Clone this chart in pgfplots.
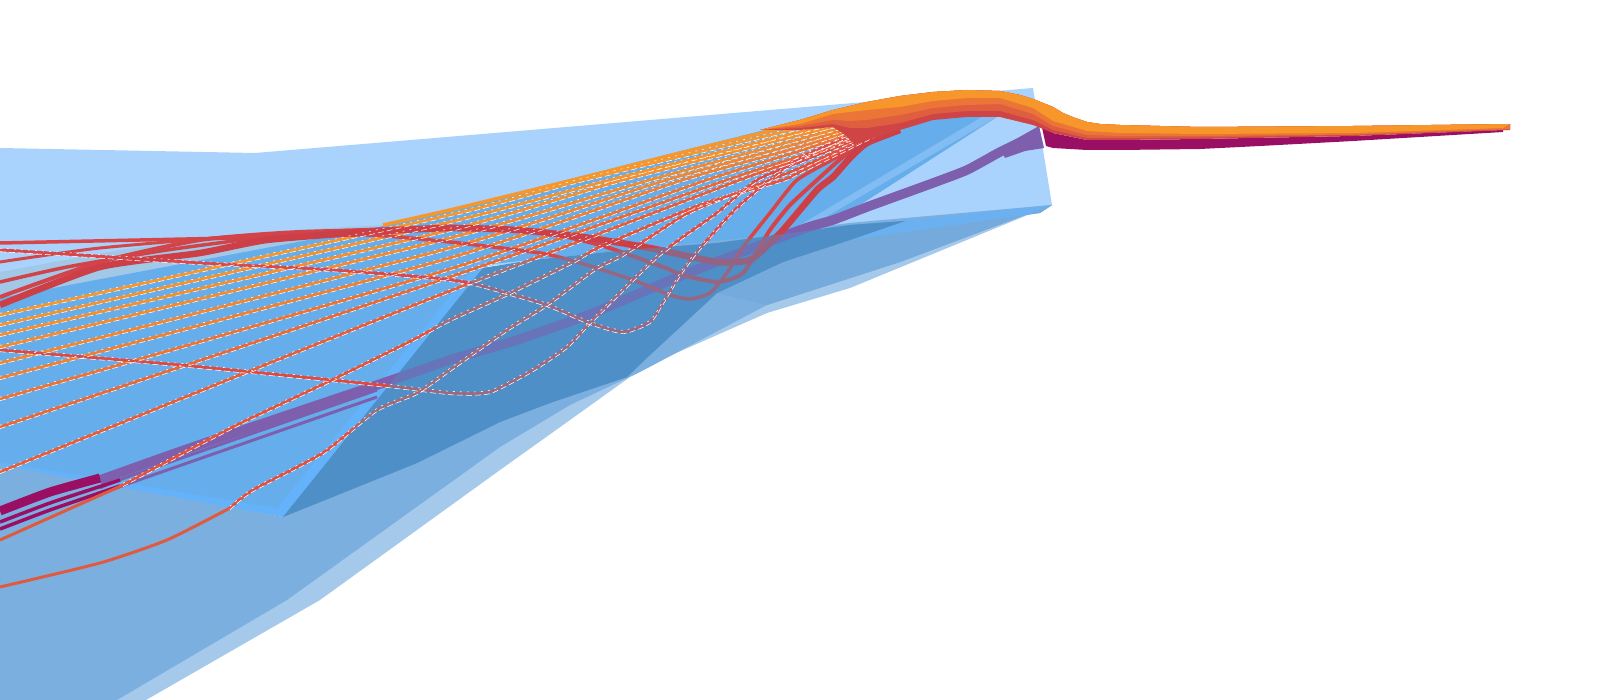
\documentclass[border=0pt]{standalone}
\usepackage{pgfplots}
\usepackage{pgfplotstable}
\pgfplotsset{compat=1.18}
\definecolor{lightp}{HTML}{A9D3FC}
\definecolor{medp}{HTML}{66ADEC}
\definecolor{brightp}{HTML}{64B2FA}
\definecolor{dark}{HTML}{4F8FC8}
\definecolor{midp}{HTML}{7BAFDF}
\definecolor{rimp}{HTML}{A5C9EB}
\definecolor{purp}{HTML}{7D5FAE}
\definecolor{mag}{HTML}{9A0E63}
\definecolor{layA}{HTML}{CF4546}
\definecolor{layB}{HTML}{DF5E40}
\definecolor{layC}{HTML}{EA7536}
\definecolor{layD}{HTML}{F7962B}
\definecolor{slab}{HTML}{A2C8E8}
\newcommand\tb[2]{\pgfplotstableread[row sep=\\]{x y\\#2}#1}
\tb\TO{383 225\\450 210\\573 180\\700 148\\800 124\\890 104\\}
\tb\LA{0 315\\450 215\\583 180\\800 128\\890 108\\}
\tb\LB{0 325\\450 222\\610 180\\800 132\\890 110\\}
\tb\LC{0 335\\450 230\\623 180\\800 135\\890 112\\}
\tb\LD{0 347\\450 238\\650 180\\800 139\\890 114\\}
\tb\LE{0 363\\450 248\\667 180\\800 143\\890 116\\}
\tb\LF{0 378\\450 258\\683 180\\800 147\\890 118\\}
\tb\LG{0 399\\450 269\\707 180\\800 151\\890 120\\}
\tb\LH{0 427\\450 277\\727 180\\800 156\\890 122\\}
\tb\LI{0 472\\245 373\\450 291\\740 180\\800 159\\890 124\\}
\tb\LJ{123 485\\233 427\\330 381\\413 340\\450 320\\510 293\\573 262\\600 247\\700 205\\783 180\\800 172\\890 128\\}
\tb\LK{230 508\\253 490\\323 453\\377 410\\417 393\\450 370\\507 330\\547 305\\597 268\\623 255\\690 212\\770 180\\800 168\\890 127\\}
\tb\TA{0 350\\180 365\\380 385\\450 393\\490 392\\533 370\\567 347\\590 323\\630 283\\657 257\\683 237\\717 213\\757 180\\800 162\\890 126\\}
\tb\TB{0 250\\33 252\\200 263\\333 270\\433 278\\470 283\\507 293\\547 305\\590 323\\623 332\\650 322\\663 303\\680 275\\693 257\\710 237\\740 205\\797 160\\890 118\\}
\tb\TC{0 243\\233 238\\367 235\\450 242\\540 253\\577 262\\633 280\\670 295\\690 299\\710 293\\727 273\\743 247\\770 213\\797 180\\837 157\\860 140\\900 122\\}
\tb\TD{0 305\\100 267\\200 253\\267 240\\367 232\\450 228\\517 230\\583 237\\650 248\\717 262\\750 260\\770 243\\783 230\\817 190\\833 177\\850 158\\867 143\\900 130\\}
\tb\TE{0 297\\100 262\\200 240\\300 232\\450 229\\540 232\\600 245\\663 267\\683 275\\717 282\\743 273\\770 230\\790 205\\817 180\\843 157\\867 142\\900 125\\}
\tb\TF{0 262\\100 248\\267 234\\450 226\\}
\tb\TG{0 282\\67 267\\167 250\\267 237\\367 230\\}
\tb\OJ{0 540\\67 510\\123 485\\}
\tb\OK{0 587\\100 563\\167 540\\230 508\\}
\tb\PU{100 480\\193 447\\383 383\\450 360\\517 340\\593 313\\683 275\\800 230\\833 220\\867 207\\900 195\\933 183\\967 170\\1000 152\\1025 140\\}
\tb\PV{100 495\\133 482\\377 397\\}
\tb\PW{100 488\\133 475\\377 390\\}
\tb\MA{0 511\\50 492\\100 478\\}
\tb\MB{0 522\\50 503\\120 480\\}
\tb\MC{0 529\\50 510\\120 486\\}
\newcommand\poly[3][]{\addplot[fill=#2,draw=none,forget plot,#1] coordinates {#3} --cycle;}
\newcommand\strm[3]{\definecolor{c#2}{HTML}{#2}\addplot[color=c#2,line width=#3,smooth,tension=.35,forget plot] table {#1};}
\newcommand\wl[3]{\addplot[white,line width=.55pt,smooth,tension=.35,dash pattern=#3,yshift=#2,forget plot] table {#1};}
\newcommand\allwhite[2]{\wl\LA{#1}{#2}\wl\LB{#1}{#2}\wl\LC{#1}{#2}\wl\LD{#1}{#2}\wl\LE{#1}{#2}\wl\LF{#1}{#2}\wl\LG{#1}{#2}\wl\LH{#1}{#2}\wl\LI{#1}{#2}\wl\LJ{#1}{#2}\wl\LK{#1}{#2}\wl\TA{#1}{#2}\wl\TB{#1}{#2}}
\begin{document}
\begin{tikzpicture}
\useasboundingbox (0,0) rectangle (1600pt,700pt);
\begin{axis}[hide axis,scale only axis,width=1600pt,height=700pt,xmin=0,xmax=1600,ymin=0,ymax=700,y dir=reverse,clip=true,anchor=south west,at={(0,0)}]
% surfaces
\poly{lightp}{(0,148)(255,153)(1033,88)(1052,205)(800,232)(0,320)}
\poly{rimp}{(0,463)(283,517)(483,268)(850,223)(1052,205)(850,288)(767,313)(667,357)(630,377)(570,420)(500,470)(320,600)(146,700)(0,700)}
\poly{midp}{(0,463)(283,517)(483,268)(850,223)(1052,205)(900,262)(767,305)(640,372)(570,405)(500,447)(287,600)(117,700)(0,700)}
\poly{slab}{(0,272)(120,250)(260,232)(383,225)(260,255)(100,282)(0,298)}
\poly{medp}{(0,298)(383,226)(860,106)(1000,115)(863,203)(800,232)(483,265)(283,515)(0,463)}
\poly{brightp}{(0,462)(277,508)(478,262)(500,262)(483,268)(283,517)(0,465)}
\poly{brightp!70!midp}{(800,232)(1052,205)(1040,213)(850,240)(717,250)}
\poly{midp!85!dark}{(850,240)(1040,213)(1052,205)(900,262)(767,305)(717,293)(783,262)}
\poly{dark}{(283,517)(483,268)(533,260)(627,250)(717,243)(850,225)(905,221)(850,240)(783,262)(717,293)(650,355)(627,377)(550,403)(500,422)(417,463)(350,490)}
\poly{medp!60!lightp}{(1000,115)(985,115)(800,225)(800,232)}
% purple ribbon
\poly{purp}{(1000,148)(1039,126)(1044,148)(1025,151)(1005,158)}
\addplot[color=purp,line width=9.5pt,smooth,tension=.35,forget plot] table {\PU};
\addplot[color=purp,line width=3pt,smooth,tension=.35,forget plot] table {\PV};
\addplot[color=purp,line width=3pt,smooth,tension=.35,forget plot] table {\PW};
\addplot[color=mag,line width=9pt,smooth,tension=.3,forget plot] table {\MA};
\addplot[color=mag,line width=3.5pt,smooth,tension=.3,forget plot] table {\MB};
\addplot[color=mag,line width=3.5pt,smooth,tension=.3,forget plot] table {\MC};
% streamlines
\strm\TO{F7962B}{3.5pt}
\strm\LA{F7962C}{3pt}
\strm\LB{F6922C}{3pt}
\strm\LC{F58E2D}{3pt}
\strm\LD{F38A2E}{3pt}
\strm\LE{F2852F}{3pt}
\strm\LF{F07F31}{3pt}
\strm\LG{EE7333}{3pt}
\strm\LH{EA6834}{3pt}
\strm\LI{E65D38}{3pt}
\strm\LJ{E4523A}{3pt}
\strm\OJ{E0593C}{3pt}
\strm\LK{E2503D}{3pt}
\strm\OK{DF5A3F}{3pt}
\strm\TA{DE4A40}{3pt}
\strm\TB{D9484A}{3.2pt}
\strm\TC{D64548}{3.5pt}
\strm\TF{D24848}{3pt}
\strm\TG{CF4448}{3.5pt}
\strm\TE{D24449}{4pt}
\strm\TD{CC3F47}{6.5pt}
% translucent shell over the lines
\poly[fill opacity=.45]{dark}{(283,517)(483,268)(533,260)(627,250)(717,243)(850,225)(905,221)(850,240)(783,262)(717,293)(650,355)(627,377)(550,403)(500,422)(417,463)(350,490)}
\allwhite{1.7pt}{on 2pt off 5pt}
\allwhite{-1.7pt}{on 6pt off 3pt}
% main ribbon, stacked layers
\poly{mag}{(1041,123)(1053,133)(1087,140)(1120,140)(1200,139)(1353,136)(1503,130)(1503,132)(1353,141)(1260,146)(1200,149)(1120,150)(1087,150)(1053,148)(1046,146)}
\poly{layA}{(760,130)(800,120)(833,110)(867,102)(900,96)(933,92)(967,90)(1000,91)(1020,95)(1033,99)(1043,103)(1053,107)(1063,113)(1075,118)(1087,122)(1100,124)(1120,125)(1200,127)(1353,126)(1510,124)(1510,130)(1353,136)(1200,139)(1120,140)(1087,140)(1053,133)(1033,125)(1000,117)(967,117)(933,120)(900,130)(880,136)(867,140)(855,145)(845,135)(833,127)(800,130)}
\poly{layB}{(760,130)(800,120)(833,110)(867,102)(900,96)(933,92)(967,90)(1000,91)(1020,95)(1033,99)(1043,103)(1053,107)(1063,113)(1075,118)(1087,122)(1100,124)(1120,125)(1200,127)(1353,126)(1510,124)(1510,129.5)(1353,135)(1200,137.5)(1120,138)(1087,138)(1053,130)(1033,120)(1000,111)(967,111)(933,114)(900,123)(867,128)(850,128)(833,124)(800,128)}
\poly{layC}{(760,130)(800,120)(833,110)(867,102)(900,96)(933,92)(967,90)(1000,91)(1020,95)(1033,99)(1043,103)(1053,107)(1063,113)(1075,118)(1087,122)(1100,124)(1120,125)(1200,127)(1353,126)(1510,124)(1510,129)(1353,134.5)(1200,136)(1120,136)(1087,135)(1053,126)(1033,114)(1000,104)(967,105)(933,108)(900,115)(867,120)(850,121)(833,120)(800,126)}
\poly{layD}{(760,130)(800,120)(833,110)(867,102)(900,96)(933,92)(967,90)(1000,91)(1020,95)(1033,99)(1043,103)(1053,107)(1063,113)(1075,118)(1087,122)(1100,124)(1120,125)(1200,127)(1353,126)(1510,124)(1503,128)(1353,133)(1200,134)(1120,133)(1087,131)(1053,121)(1033,108)(1000,98)(967,98)(933,101)(900,107)(867,110)(833,114)(800,124)}
\end{axis}
\end{tikzpicture}
\end{document}
